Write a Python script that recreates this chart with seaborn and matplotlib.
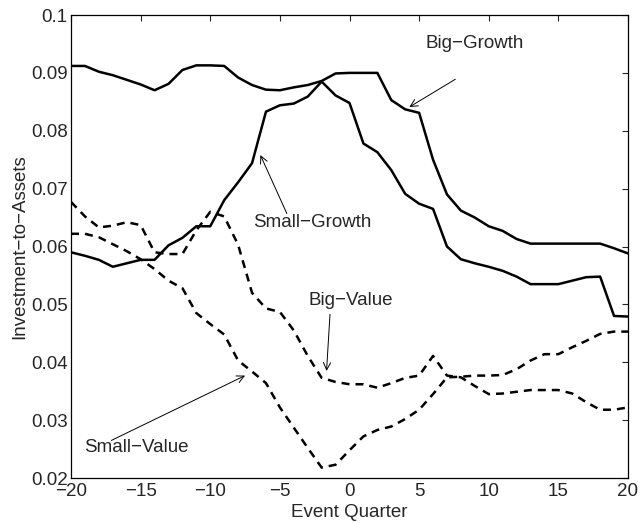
import matplotlib
matplotlib.use("Agg")
import matplotlib.pyplot as plt
import numpy as np
import pandas as pd
import seaborn as sns

# Event quarters and investment-to-assets for the four portfolios
lstQuarters = list(range(-20, 21))

lstBigGrowth = [
	0.0912, 0.0912, 0.0902, 0.0896, 0.0888, 0.0880, 0.0870, 0.0881, 0.0905, 0.0913,
	0.0913, 0.0912, 0.0892, 0.0879, 0.0871, 0.0870, 0.0875, 0.0879, 0.0886, 0.0899,
	0.0900, 0.0900, 0.0900, 0.0853, 0.0837, 0.0831, 0.0750, 0.0690, 0.0662, 0.0650,
	0.0635, 0.0627, 0.0613, 0.0605, 0.0605, 0.0605, 0.0605, 0.0605, 0.0605, 0.0597,
	0.0588,
]
lstSmallGrowth = [
	0.0590, 0.0584, 0.0577, 0.0565, 0.0571, 0.0577, 0.0577, 0.0602, 0.0615, 0.0635,
	0.0635, 0.0680, 0.0711, 0.0744, 0.0833, 0.0844, 0.0847, 0.0859, 0.0885, 0.0861,
	0.0848, 0.0778, 0.0763, 0.0732, 0.0691, 0.0674, 0.0665, 0.0600, 0.0578, 0.0571,
	0.0565, 0.0558, 0.0548, 0.0535, 0.0535, 0.0535, 0.0541, 0.0547, 0.0548, 0.0480,
	0.0479,
]
lstBigValue = [
	0.0677, 0.0652, 0.0633, 0.0636, 0.0642, 0.0637, 0.0590, 0.0587, 0.0587, 0.0628,
	0.0660, 0.0652, 0.0603, 0.0520, 0.0493, 0.0487, 0.0455, 0.0411, 0.0373, 0.0366,
	0.0362, 0.0362, 0.0356, 0.0364, 0.0373, 0.0377, 0.0411, 0.0377, 0.0374, 0.0359,
	0.0345, 0.0346, 0.0349, 0.0352, 0.0352, 0.0352, 0.0346, 0.0331, 0.0318, 0.0318,
	0.0322,
]
lstSmallValue = [
	0.0622, 0.0622, 0.0616, 0.0604, 0.0592, 0.0578, 0.0561, 0.0541, 0.0528, 0.0485,
	0.0466, 0.0448, 0.0403, 0.0384, 0.0364, 0.0322, 0.0287, 0.0252, 0.0218, 0.0223,
	0.0248, 0.0272, 0.0283, 0.0289, 0.0302, 0.0318, 0.0345, 0.0374, 0.0375, 0.0377,
	0.0377, 0.0378, 0.0388, 0.0403, 0.0414, 0.0414, 0.0426, 0.0437, 0.0449, 0.0453,
	0.0453,
]

lstXTicks = [-20, -15, -10, -5, 0, 5, 10, 15, 20]
lstYTicks = [0.02, 0.03, 0.04, 0.05, 0.06, 0.07, 0.08, 0.09, 0.1]

# Label text, text position, arrow tail, arrow tip (data coordinates)
lstAnnotations = [
	("Big\u2212Growth", (9.0, 0.0950), (7.6, 0.0889), (4.3, 0.0841)),
	("Small\u2212Growth", (-2.7, 0.0642), (-4.5, 0.0657), (-6.4, 0.0758)),
	("Big\u2212Value", (0.1, 0.0506), (-1.4, 0.0483), (-1.65, 0.0385)),
	("Small\u2212Value", (-15.3, 0.0252), (-17.1, 0.0265), (-7.5, 0.0377)),
]

fFontSize = 13.5

sns.set_style("white")
plt.rcParams["font.family"] = ["Liberation Sans", "DejaVu Sans"]
plt.rcParams["axes.linewidth"] = 0.9

dfData = pd.DataFrame({
	"quarter": lstQuarters,
	"Big-Growth": lstBigGrowth,
	"Small-Growth": lstSmallGrowth,
	"Big-Value": lstBigValue,
	"Small-Value": lstSmallValue,
})

fig = plt.figure(figsize=(6.41, 5.23), dpi=100)
ax = fig.add_axes([0.1108, 0.086, 0.8689, 0.8853])

dctStyles = {
	"Big-Growth": "-",
	"Small-Growth": "-",
	"Big-Value": (0, (3.2, 2.4)),
	"Small-Value": (0, (3.2, 2.4)),
}
for sName, oStyle in dctStyles.items():
	sns.lineplot(data=dfData, x="quarter", y=sName, ax=ax, color="black",
		linewidth=1.8, linestyle=oStyle)

for sText, tText, tTail, tTip in lstAnnotations:
	ax.text(tText[0], tText[1], sText, ha="center", va="center", fontsize=fFontSize)
	ax.annotate("", xy=tTip, xytext=tTail,
		arrowprops=dict(arrowstyle="->", color="black", lw=0.7,
			shrinkA=0, shrinkB=0, mutation_scale=13))

ax.set_xlim(-20, 20)
ax.set_ylim(0.02, 0.1)
ax.set_xticks(lstXTicks)
ax.set_xticklabels([f"{v}".replace("-", "\u2212") for v in lstXTicks])
ax.set_yticks(lstYTicks)
ax.set_yticklabels([f"{v:g}" for v in lstYTicks])
ax.tick_params(direction="in", length=4, width=0.8, top=True, right=True,
	labelsize=fFontSize)
ax.tick_params(axis="x", pad=3.5)
ax.tick_params(axis="y", pad=2.5)
ax.set_xlabel("Event Quarter", fontsize=fFontSize, labelpad=3)
ax.set_ylabel("Investment\u2212to\u2212Assets", fontsize=fFontSize, labelpad=2)
for oSpine in ax.spines.values():
	oSpine.set_color("black")

fig.savefig("out.png", dpi=100)
plt.close(fig)
